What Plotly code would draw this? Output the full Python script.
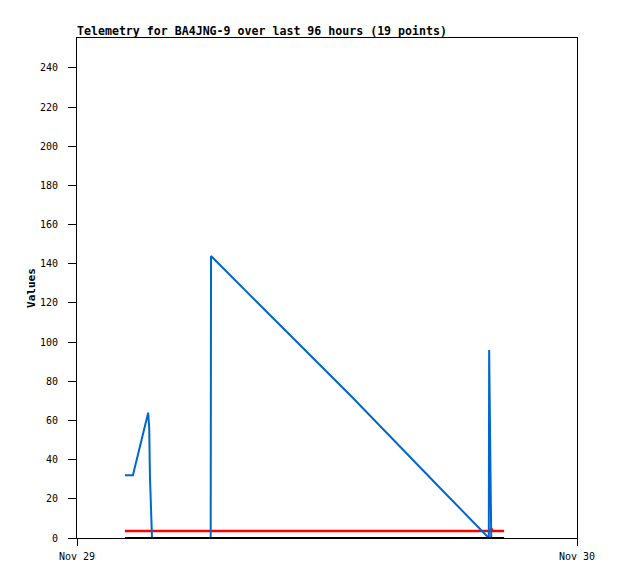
import plotly.graph_objects as go

# Shared timestamps (19 telemetry points)
times = [
    "2024-11-29 02:18", "2024-11-29 02:41", "2024-11-29 03:25", "2024-11-29 03:28",
    "2024-11-29 03:30", "2024-11-29 03:33", "2024-11-29 03:36", "2024-11-29 06:25",
    "2024-11-29 06:26", "2024-11-29 08:41", "2024-11-29 13:12", "2024-11-29 17:34",
    "2024-11-29 19:46", "2024-11-29 19:47", "2024-11-29 19:49", "2024-11-29 19:51",
    "2024-11-29 19:53", "2024-11-29 19:57", "2024-11-29 20:30",
]
blue_values = [32, 32, 64, 56, 32, 12, 0, 0, 144, 120, 72, 24, 0, 96, 72, 24, 0, 0, 0]
red_values = [3.6, 3.6, 3.6, 3.6, 3.6, 3.6, 3.6, 3.6, 3.6, 3.6, 3.6, 3.6, 3.6, 3.6, 3.6, 3.6, 5.0, 3.6, 3.6]
black_values = [0] * 19

title_text = "Telemetry for BA4JNG-9 over last 96 hours (19 points)"
y_ticks = [0, 20, 40, 60, 80, 100, 120, 140, 160, 180, 200, 220, 240]
x_ticks = ["2024-11-29", "2024-11-30"]
x_ticklabels = ["Nov 29", "Nov 30"]

FONT = "DejaVu Sans Mono"

fig = go.Figure()
fig.add_trace(go.Scatter(x=times, y=red_values, mode="lines",
                         line=dict(color="#ff0000", width=2.5), showlegend=False))
fig.add_trace(go.Scatter(x=times, y=blue_values, mode="lines",
                         line=dict(color="#0066cc", width=2), showlegend=False))
fig.add_trace(go.Scatter(x=times, y=black_values, mode="lines",
                         line=dict(color="#000000", width=2), showlegend=False))

fig.update_layout(
    width=618, height=579,
    margin=dict(l=77, r=41, t=38, b=41),
    paper_bgcolor="white", plot_bgcolor="white",
    font=dict(family=FONT, size=10, color="black"),
    title=dict(text="<b>" + title_text + "</b>", x=77 / 618, xanchor="left", xref="container",
               y=1 - 31 / 579, yanchor="middle", yref="container",
               font=dict(family=FONT, size=11.6, color="black")),
    xaxis=dict(
        type="date", range=["2024-11-29", "2024-11-30"],
        tickvals=x_ticks, ticktext=x_ticklabels,
        showgrid=False, zeroline=False,
        showline=True, linecolor="black", linewidth=1, mirror=True,
        ticks="outside", ticklen=7, tickcolor="black", tickwidth=1,
        ticklabelstandoff=2,
        tickfont=dict(family=FONT, size=10),
    ),
    yaxis=dict(
        range=[0, 255.3], tickvals=y_ticks,
        showgrid=False, zeroline=False,
        showline=True, linecolor="black", linewidth=1, mirror=True,
        ticks="outside", ticklen=8, tickcolor="black", tickwidth=1,
        ticklabelstandoff=8,
        tickfont=dict(family=FONT, size=10),
        title=dict(text="<b>Values</b>", standoff=2, font=dict(family=FONT, size=11)),
    ),
)

fig.write_html("out.html", config={"displayModeBar": False},
               post_script="document.body.style.margin='0';document.body.style.padding='0';")
